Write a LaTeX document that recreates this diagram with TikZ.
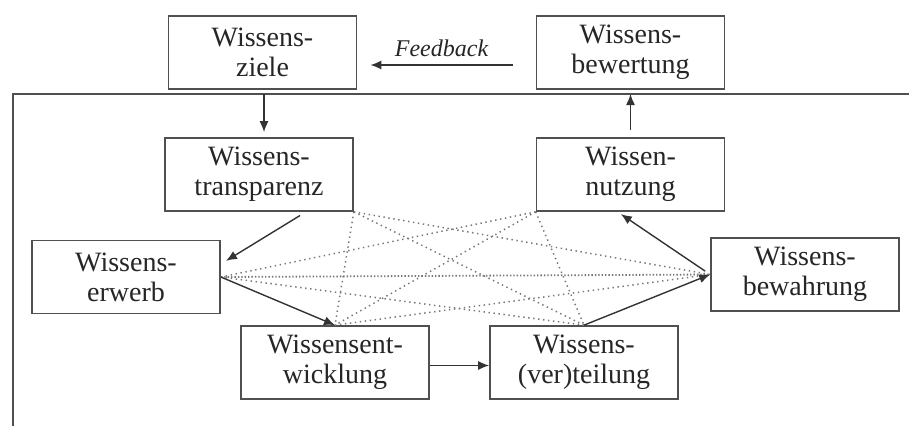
\documentclass[tikz,border=0pt]{standalone}
\usepackage{fontspec}
\setmainfont{Liberation Serif}
\usetikzlibrary{arrows.meta}
\definecolor{boxline}{HTML}{505050}
\definecolor{txt}{HTML}{262626}
\definecolor{arrowc}{HTML}{333333}
\definecolor{dotc}{HTML}{777777}
\tikzset{
  stage/.style={draw=boxline, line width=1.7pt, fill=white, minimum width=188pt,
    minimum height=73pt, align=center, text=txt, inner sep=0pt,
    font=\fontsize{28}{30}\selectfont},
  arr/.style={draw=arrowc, line width=1.4pt, -{Latex[length=11pt,width=9pt]}},
  frameline/.style={draw=boxline, line width=1.7pt},
  link/.style={draw=dotc, line width=1.5pt, dash pattern=on 1.4pt off 3.6pt},
  denselink/.style={draw=dotc, line width=1.8pt, dash pattern=on 1.4pt off 2pt},
}
\begin{document}
\begin{tikzpicture}[x=1pt,y=-1pt]
\useasboundingbox (0,0) rectangle (909,426);

% outer frame of the knowledge-management cycle
\coordinate (fbot) at (13,426);
\coordinate (fcorner) at (13,94);
\coordinate (fright) at (909,94);
\draw[frameline] (fbot) -- (fcorner) -- (fright);

% building blocks
\node[stage] (ziele) at (262.5,52.5) {Wissens-\\ziele};
\node[stage] (bewertung) at (630.5,52.5) {Wissens-\\bewertung};
\node[stage] (transparenz) at (259,174.5) {Wissens-\\transparenz};
\node[stage] (nutzung) at (630.5,174.5) {Wissen-\\nutzung};
\node[stage] (erwerb) at (126,277) {Wissens-\\erwerb};
\node[stage] (bewahrung) at (805,274.5) {Wissens-\\bewahrung};
\node[stage] (entwicklung) at (335,362.5) {Wissensent-\\wicklung};
\node[stage] (verteilung) at (584,362.5) {Wissens-\\(ver)teilung};

% dotted cross-links between the core building blocks
\draw[link] (transparenz.south east) -- (entwicklung.north);
\draw[link] (transparenz.south east) -- (verteilung.north);
\draw[link] (transparenz.south east) -- (bewahrung.west);
\draw[link] (nutzung.south west) -- (erwerb.east);
\draw[link] (nutzung.south west) -- (entwicklung.north);
\draw[link] (nutzung.south west) -- (verteilung.north);
\draw[link] (erwerb.east) -- (verteilung.north);
\draw[link] (entwicklung.north) -- (bewahrung.west);
\draw[denselink] (erwerb.east) -- (bewahrung.west);

% feedback loop
\draw[arr] ([xshift=-23pt,yshift=-12.5pt]bewertung.west) -- ([xshift=13pt,yshift=-12.5pt]ziele.east)
  node[midway, above=4pt, text=txt, font=\fontsize{24}{26}\selectfont\itshape] (fblabel) {Feedback};

% solid process arrows
\draw[arr, shorten >=5pt] ([xshift=5pt]transparenz.north |- fcorner) -- ([xshift=5pt]transparenz.north);
\draw[arr, shorten <=7pt] (nutzung.north) -- (nutzung.north |- fcorner);
\draw[arr, shorten <=7pt, shorten >=6pt] ([xshift=47pt]transparenz.south) -- ([yshift=13pt]erwerb.east);
\draw[arr] (erwerb.east) -- (entwicklung.north);
\draw[arr] ([yshift=-3pt]entwicklung.east) -- ([yshift=-3pt]verteilung.west);
\draw[arr] (verteilung.north) -- (bewahrung.west);
\draw[arr, shorten <=6pt, shorten >=4pt] (bewahrung.west) -- ([xshift=-13pt]nutzung.south);
\end{tikzpicture}
\end{document}
